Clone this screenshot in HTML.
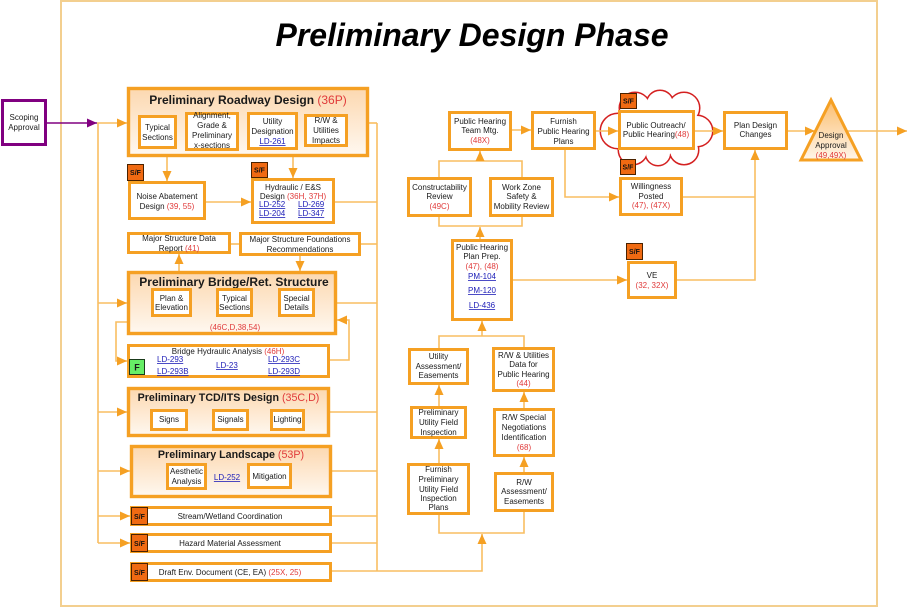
<!DOCTYPE html>
<html><head><meta charset="utf-8"><style>
html,body{margin:0;padding:0;background:#fff;}
svg{display:block;}
text{font-family:"Liberation Sans",Arial,sans-serif;font-size:8px;fill:#1a1a1a;}
.c{text-anchor:middle;}
.r{fill:#e03a3a;}
.l{fill:#2020b8;text-decoration:underline;}
.b{stroke:#F5A023;stroke-width:3;fill:#fff;}
.g{stroke:#F5A023;stroke-width:3.4;fill:url(#gr);}
.k{stroke:#F8BE62;stroke-width:1.6;fill:none;}
.sf{fill:#F06A12;stroke:#4a2200;stroke-width:1;}
.sft{font-size:7px;font-weight:bold;fill:#111;text-anchor:middle;}
.h{font-size:12px;font-weight:bold;text-anchor:middle;}
.h2{font-size:10.7px;font-weight:bold;text-anchor:middle;}
.hr{font-weight:normal;fill:#e03a3a;}
</style></head><body>
<svg width="909" height="608" viewBox="0 0 909 608" xmlns="http://www.w3.org/2000/svg">
<defs>
<linearGradient id="gr" x1="0" y1="0" x2="0" y2="1"><stop offset="0" stop-color="#fcd8b0"/><stop offset="1" stop-color="#fff8f0"/></linearGradient>
<linearGradient id="tg" x1="0" y1="0" x2="0" y2="1"><stop offset="0" stop-color="#fbbd6e"/><stop offset="1" stop-color="#fff6ea"/></linearGradient>
<marker id="a" markerUnits="userSpaceOnUse" markerWidth="10" markerHeight="9" refX="10" refY="4.5" orient="auto"><path d="M0,0 L10,4.5 L0,9 z" fill="#F5A023"/></marker>
<marker id="p" markerUnits="userSpaceOnUse" markerWidth="10" markerHeight="9" refX="10" refY="4.5" orient="auto"><path d="M0,0 L10,4.5 L0,9 z" fill="#800080"/></marker>
</defs>

<!-- frame -->
<rect x="61" y="1" width="816" height="605" fill="none" stroke="#F3CF8F" stroke-width="2"/>
<text x="472" y="46" style="font-size:32px;font-weight:bold;font-style:italic;text-anchor:middle;fill:#000">Preliminary Design Phase</text>

<!-- scoping -->
<rect x="2.5" y="100.5" width="43" height="44" fill="#fff" stroke="#800080" stroke-width="3"/>
<text class="c" x="24" y="120">Scoping</text>
<text class="c" x="24" y="130">Approval</text>
<line x1="46" y1="123" x2="97" y2="123" stroke="#800080" stroke-width="1.6" marker-end="url(#p)"/>

<!-- connectors left -->
<line class="k" x1="97" y1="123" x2="127" y2="123" marker-end="url(#a)"/>
<line class="k" x1="98" y1="123" x2="98" y2="543"/>
<line class="k" x1="98" y1="303" x2="127" y2="303" marker-end="url(#a)"/>
<line class="k" x1="98" y1="412" x2="127" y2="412" marker-end="url(#a)"/>
<line class="k" x1="98" y1="471" x2="130" y2="471" marker-end="url(#a)"/>
<line class="k" x1="98" y1="516" x2="130" y2="516" marker-end="url(#a)"/>
<line class="k" x1="98" y1="543" x2="130" y2="543" marker-end="url(#a)"/>

<line class="k" x1="167" y1="157" x2="167" y2="181" marker-end="url(#a)"/>
<line class="k" x1="293" y1="157" x2="293" y2="178" marker-end="url(#a)"/>
<line class="k" x1="206" y1="202" x2="251" y2="202" marker-end="url(#a)"/>
<line class="k" x1="179" y1="271" x2="179" y2="254" marker-end="url(#a)"/>
<line class="k" x1="300" y1="256" x2="300" y2="271" marker-end="url(#a)"/>
<line class="k" x1="231" y1="244" x2="239" y2="244"/>
<path class="k" d="M127,322 H116 V361 H127" marker-end="url(#a)"/>
<path class="k" d="M330,360 H349 V320 H337" marker-end="url(#a)"/>

<!-- right bus -->
<line class="k" x1="377" y1="123" x2="377" y2="571"/>
<line class="k" x1="369" y1="123" x2="377" y2="123"/>
<line class="k" x1="335" y1="202" x2="377" y2="202"/>
<line class="k" x1="361" y1="244" x2="377" y2="244"/>
<line class="k" x1="337" y1="303" x2="377" y2="303"/>
<line class="k" x1="330" y1="412" x2="377" y2="412"/>
<line class="k" x1="332" y1="471" x2="377" y2="471"/>
<line class="k" x1="332" y1="516" x2="377" y2="516"/>
<line class="k" x1="332" y1="543" x2="377" y2="543"/>
<path class="k" d="M332,571 H482 V534" marker-end="url(#a)"/>

<!-- middle connectors -->
<path class="k" d="M439,515 V533 H524 V512"/>
<line class="k" x1="439" y1="463" x2="439" y2="439" marker-end="url(#a)"/>
<line class="k" x1="439" y1="406" x2="439" y2="385" marker-end="url(#a)"/>
<line class="k" x1="524" y1="472" x2="524" y2="457" marker-end="url(#a)"/>
<line class="k" x1="524" y1="408" x2="524" y2="392" marker-end="url(#a)"/>
<path class="k" d="M439,348 V336 H524 V347"/>
<line class="k" x1="482" y1="336" x2="482" y2="321" marker-end="url(#a)"/>
<line class="k" x1="480" y1="239" x2="480" y2="227" marker-end="url(#a)"/>
<path class="k" d="M439,217 V226 H522 V217"/>
<path class="k" d="M439,177 V161 H522 V177"/>
<line class="k" x1="480" y1="161" x2="480" y2="151" marker-end="url(#a)"/>
<line class="k" x1="512" y1="130" x2="531" y2="130" marker-end="url(#a)"/>
<line class="k" x1="513" y1="280" x2="627" y2="280" marker-end="url(#a)"/>

<!-- right connectors -->
<path class="k" d="M565,150 V197 H619" marker-end="url(#a)"/>
<line class="k" x1="683" y1="197" x2="755" y2="197"/>
<path class="k" d="M677,280 H755 V150" marker-end="url(#a)"/>

<!-- cloud -->
<g stroke="#d42020" stroke-width="3" fill="#fff">
<circle cx="618" cy="131" r="17"/><circle cx="635" cy="108" r="15"/><circle cx="660" cy="104" r="13"/><circle cx="684" cy="108" r="15"/>
<circle cx="697" cy="131" r="15"/><circle cx="684" cy="150" r="14"/><circle cx="658" cy="153" r="12"/><circle cx="633" cy="150" r="14"/>
</g>
<g fill="#fff">
<circle cx="618" cy="131" r="17"/><circle cx="635" cy="108" r="15"/><circle cx="660" cy="104" r="13"/><circle cx="684" cy="108" r="15"/>
<circle cx="697" cy="131" r="15"/><circle cx="684" cy="150" r="14"/><circle cx="658" cy="153" r="12"/><circle cx="633" cy="150" r="14"/>
<ellipse cx="657" cy="129" rx="42" ry="26"/>
</g>
<line class="k" x1="596" y1="131" x2="618" y2="131" marker-end="url(#a)"/>
<line class="k" x1="695" y1="131" x2="723" y2="131" marker-end="url(#a)"/>
<line class="k" x1="788" y1="131" x2="815" y2="131" marker-end="url(#a)"/>
<line class="k" x1="847" y1="131" x2="907" y2="131" marker-end="url(#a)"/>

<!-- Roadway -->
<rect class="g" x="128.5" y="88.5" width="239" height="67"/>
<text class="h" x="248" y="104">Preliminary Roadway Design <tspan class="hr">(36P)</tspan></text>
<rect class="b" x="139.5" y="116.5" width="36" height="31"/>
<text class="c" x="157.5" y="130">Typical</text><text class="c" x="157.5" y="140">Sections</text>
<rect class="b" x="186.5" y="113.5" width="51" height="36"/>
<text class="c" x="212" y="118">Alignment,</text><text class="c" x="212" y="128">Grade &amp;</text><text class="c" x="212" y="138">Preliminary</text><text class="c" x="212" y="148">x-sections</text>
<rect class="b" x="248.5" y="113.5" width="48" height="35"/>
<text class="c" x="272.5" y="124">Utility</text><text class="c" x="272.5" y="134">Designation</text><text class="c l" x="272.5" y="144">LD-261</text>
<rect class="b" x="305.5" y="115.5" width="41" height="30"/>
<text class="c" x="326" y="123">R/W &amp;</text><text class="c" x="326" y="133">Utilities</text><text class="c" x="326" y="143">Impacts</text>

<!-- Noise / Hydraulic -->
<rect class="b" x="129.5" y="182.5" width="75" height="36"/>
<text class="c" x="167" y="199">Noise Abatement</text>
<text class="c" x="167" y="209">Design <tspan class="r">(39, 55)</tspan></text>
<rect class="sf" x="127.5" y="164.5" width="16" height="16"/><text class="sft" x="135.5" y="175">S/F</text>

<rect class="b" x="252.5" y="179.5" width="81" height="43"/>
<text class="c" x="293" y="190">Hydraulic / E&amp;S</text>
<text class="c" x="293" y="199">Design <tspan class="r">(36H, 37H)</tspan></text>
<text class="l" x="259" y="207">LD-252</text><text class="l" x="298" y="207">LD-269</text>
<text class="l" x="259" y="216">LD-204</text><text class="l" x="298" y="216">LD-347</text>
<rect class="sf" x="251.5" y="162.5" width="16" height="15"/><text class="sft" x="259.5" y="172.5">S/F</text>

<!-- Major structure -->
<rect class="b" x="128.5" y="233.5" width="101" height="19"/>
<text class="c" x="179" y="241">Major Structure Data</text>
<text class="c" x="179" y="251">Report <tspan class="r">(41)</tspan></text>
<rect class="b" x="240.5" y="233.5" width="119" height="21"/>
<text class="c" x="300" y="242">Major Structure Foundations</text>
<text class="c" x="300" y="252">Recommendations</text>

<!-- Bridge -->
<rect class="g" x="128.5" y="272.5" width="207" height="61"/>
<text class="h" x="234" y="286">Preliminary Bridge/Ret. Structure</text>
<rect class="b" x="152.5" y="289.5" width="38" height="26"/>
<text class="c" x="171.5" y="301">Plan &amp;</text><text class="c" x="171.5" y="310">Elevation</text>
<rect class="b" x="217.5" y="289.5" width="34" height="26"/>
<text class="c" x="234.5" y="301">Typical</text><text class="c" x="234.5" y="310">Sections</text>
<rect class="b" x="279.5" y="289.5" width="34" height="26"/>
<text class="c" x="296.5" y="301">Special</text><text class="c" x="296.5" y="310">Details</text>
<text class="c r" x="235" y="330">(46C,D,38,54)</text>

<!-- Bridge Hydraulic -->
<rect class="b" x="128.5" y="345.5" width="200" height="31"/>
<text class="c" x="228" y="354">Bridge Hydraulic Analysis <tspan class="r">(46H)</tspan></text>
<text class="l" x="157" y="362">LD-293</text><text class="l" x="157" y="374">LD-293B</text>
<text class="l" x="216" y="368">LD-23</text>
<text class="l" x="268" y="362">LD-293C</text><text class="l" x="268" y="374">LD-293D</text>
<rect x="129.5" y="359.5" width="15" height="15" fill="#66EE66" stroke="#1a3a1a" stroke-width="1"/>
<text x="137" y="370.5" style="font-size:9px;font-weight:bold;text-anchor:middle">F</text>

<!-- TCD -->
<rect class="g" x="128.5" y="388.5" width="200" height="47"/>
<text class="h2" x="228.5" y="401">Preliminary TCD/ITS Design <tspan class="hr">(35C,D)</tspan></text>
<rect class="b" x="151.5" y="410.5" width="35" height="19"/><text class="c" x="169" y="422">Signs</text>
<rect class="b" x="213.5" y="410.5" width="34" height="19"/><text class="c" x="230.5" y="422">Signals</text>
<rect class="b" x="271.5" y="410.5" width="32" height="19"/><text class="c" x="287.5" y="422">Lighting</text>

<!-- Landscape -->
<rect class="g" x="131.5" y="446.5" width="199" height="50"/>
<text class="h2" x="231" y="458">Preliminary Landscape <tspan class="hr">(53P)</tspan></text>
<rect class="b" x="167.5" y="464.5" width="38" height="24"/>
<text class="c" x="186.5" y="474">Aesthetic</text><text class="c" x="186.5" y="484">Analysis</text>
<text class="c l" x="227" y="480">LD-252</text>
<rect class="b" x="248.5" y="464.5" width="42" height="23"/><text class="c" x="269.5" y="479">Mitigation</text>

<!-- Stream / Hazard / Draft -->
<rect class="b" x="131.5" y="507.5" width="199" height="17"/>
<rect class="sf" x="131.5" y="507.5" width="16" height="17"/><text class="sft" x="139.5" y="519">S/F</text>
<text class="c" x="230" y="519">Stream/Wetland  Coordination</text>
<rect class="b" x="131.5" y="534.5" width="199" height="17"/>
<rect class="sf" x="131.5" y="534.5" width="16" height="17"/><text class="sft" x="139.5" y="546">S/F</text>
<text class="c" x="230" y="546">Hazard Material Assessment</text>
<rect class="b" x="131.5" y="563.5" width="199" height="17"/>
<rect class="sf" x="131.5" y="563.5" width="16" height="17"/><text class="sft" x="139.5" y="575">S/F</text>
<text class="c" x="230" y="575">Draft Env. Document (CE, EA) <tspan class="r">(25X, 25)</tspan></text>

<!-- Middle column -->
<rect class="b" x="449.5" y="112.5" width="61" height="37"/>
<text class="c" x="480" y="124">Public Hearing</text><text class="c" x="480" y="133">Team Mtg.</text><text class="c r" x="480" y="143">(48X)</text>
<rect class="b" x="408.5" y="178.5" width="62" height="37"/>
<text class="c" x="439.5" y="190">Constructability</text><text class="c" x="439.5" y="199">Review</text><text class="c r" x="439.5" y="209">(49C)</text>
<rect class="b" x="490.5" y="178.5" width="62" height="37"/>
<text class="c" x="521.5" y="190">Work Zone</text><text class="c" x="521.5" y="199">Safety &amp;</text><text class="c" x="521.5" y="209">Mobility Review</text>
<rect class="b" x="452.5" y="240.5" width="59" height="79"/>
<text class="c" x="482" y="250">Public Hearing</text><text class="c" x="482" y="259">Plan Prep.</text><text class="c r" x="482" y="269">(47), (48)</text>
<text class="c l" x="482" y="279">PM-104</text><text class="c l" x="482" y="293">PM-120</text><text class="c l" x="482" y="308">LD-436</text>

<rect class="b" x="409.5" y="349.5" width="58" height="34"/>
<text class="c" x="438.5" y="359">Utility</text><text class="c" x="438.5" y="369">Assessment/</text><text class="c" x="438.5" y="378">Easements</text>
<rect class="b" x="493.5" y="348.5" width="60" height="42"/>
<text class="c" x="523.5" y="358">R/W &amp; Utilities</text><text class="c" x="523.5" y="367">Data for</text><text class="c" x="523.5" y="377">Public Hearing</text><text class="c r" x="523.5" y="386">(44)</text>
<rect class="b" x="411.5" y="407.5" width="54" height="30"/>
<text class="c" x="438.5" y="415">Preliminary</text><text class="c" x="438.5" y="425">Utility Field</text><text class="c" x="438.5" y="435">Inspection</text>
<rect class="b" x="494.5" y="409.5" width="59" height="46"/>
<text class="c" x="524" y="420">R/W Special</text><text class="c" x="524" y="430">Negotiations</text><text class="c" x="524" y="440">Identification</text><text class="c r" x="524" y="450">(68)</text>
<rect class="b" x="408.5" y="464.5" width="60" height="49"/>
<text class="c" x="438.5" y="472">Furnish</text><text class="c" x="438.5" y="482">Preliminary</text><text class="c" x="438.5" y="492">Utility Field</text><text class="c" x="438.5" y="501">Inspection</text><text class="c" x="438.5" y="510">Plans</text>
<rect class="b" x="495.5" y="473.5" width="57" height="37"/>
<text class="c" x="524" y="485">R/W</text><text class="c" x="524" y="494">Assessment/</text><text class="c" x="524" y="504">Easements</text>

<!-- Right column -->
<rect class="b" x="532.5" y="112.5" width="62" height="36"/>
<text class="c" x="563.5" y="124">Furnish</text><text class="c" x="563.5" y="134">Public Hearing</text><text class="c" x="563.5" y="144">Plans</text>
<rect class="b" x="619.5" y="111.5" width="74" height="37"/>
<text class="c" x="656" y="128">Public Outreach/</text>
<text class="c" x="656" y="137">Public Hearing<tspan class="r">(48)</tspan></text>
<rect class="sf" x="620.5" y="93.5" width="16" height="15"/><text class="sft" x="628.5" y="103.5">S/F</text>
<rect class="b" x="724.5" y="112.5" width="62" height="36"/>
<text class="c" x="755.5" y="128">Plan Design</text><text class="c" x="755.5" y="137">Changes</text>
<polygon points="831,100 801,160 861,160" fill="url(#tg)" stroke="#F5A023" stroke-width="3" stroke-linejoin="miter"/>
<text class="c" x="831" y="138">Design</text><text class="c" x="831" y="148">Approval</text><text class="c r" x="831" y="158">(49,49X)</text>
<rect class="b" x="620.5" y="178.5" width="61" height="36"/>
<text class="c" x="651" y="189">Willingness</text><text class="c" x="651" y="199">Posted</text><text class="c r" x="651" y="208">(47), (47X)</text>
<rect class="sf" x="620.5" y="159.5" width="15" height="15"/><text class="sft" x="628" y="169.5">S/F</text>
<rect class="b" x="628.5" y="262.5" width="47" height="35"/>
<text class="c" x="652" y="278">VE</text><text class="c r" x="652" y="288">(32, 32X)</text>
<rect class="sf" x="626.5" y="243.5" width="16" height="16"/><text class="sft" x="634.5" y="254">S/F</text>
</svg>
</body></html>
